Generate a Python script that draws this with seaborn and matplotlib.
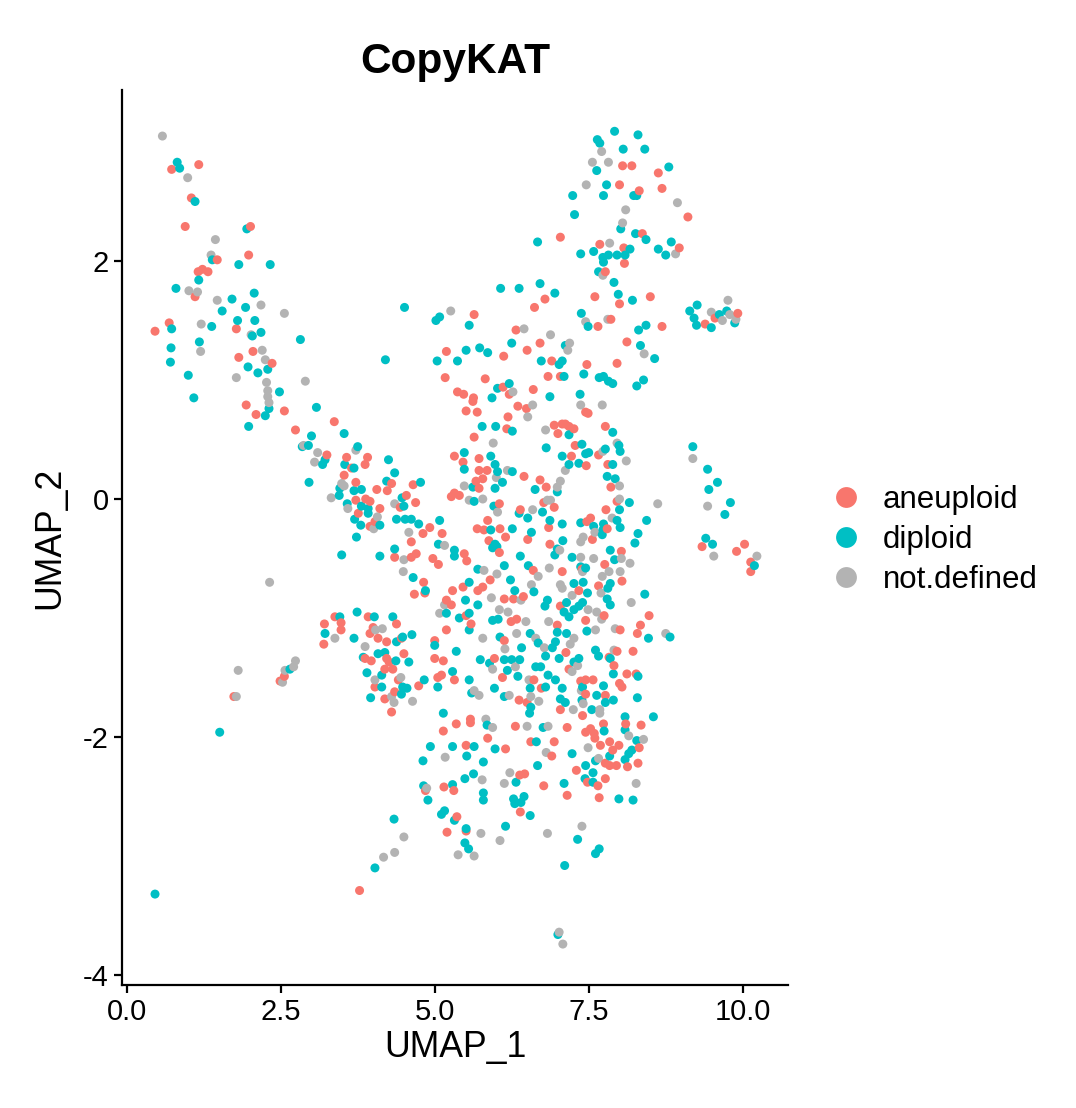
"""
CopyKAT prediction on the UMAP embedding (aneuploid / diploid / not.defined)
"""
import numpy as np
import pandas as pd
import matplotlib
matplotlib.use('Agg')
import matplotlib.pyplot as plt
from matplotlib.lines import Line2D
import seaborn as sns

# cell coordinates (UMAP_1, UMAP_2) per CopyKAT call
aneuploid = [
    (0.73, 2.77), (1.17, 2.81), (1.05, 2.53), (0.95, 2.29), (2.01, 2.29), (1.47, 2.01), (1.98, 2.05),
    (1.16, 1.91), (1.23, 1.93), (1.32, 1.91), (1.11, 1.70), (0.69, 1.48), (0.46, 1.41), (1.78, 1.43),
    (1.82, 1.19), (2.05, 1.24), (2.36, 1.14), (5.19, 1.24), (5.17, 1.02), (1.94, 0.79), (2.10, 0.71),
    (2.56, 0.74), (3.37, 0.65),
    (8.05, 2.80), (8.20, 2.80), (8.63, 2.74), (8.00, 2.64), (8.32, 2.59), (8.69, 2.61), (9.11, 2.37),
    (8.37, 2.23), (7.04, 2.20), (7.68, 2.14), (8.07, 2.11), (8.08, 1.98), (8.97, 2.11), (7.77, 1.91),
    (6.79, 1.68), (6.62, 1.61), (7.60, 1.70), (8.00, 1.64), (8.50, 1.70), (7.65, 1.45), (7.86, 1.51),
    (8.69, 1.45), (9.39, 1.47), (9.55, 1.52), (9.92, 1.56), (5.64, 1.55), (6.32, 1.42), (6.71, 1.31),
    (6.12, 1.20), (6.50, 1.25), (6.90, 1.16), (7.47, 1.13), (7.96, 1.14), (8.12, 1.32), (5.82, 1.01),
    (6.84, 1.03), (7.04, 1.03), (5.37, 0.90), (5.47, 0.88), (5.63, 0.85), (5.62, 0.82), (6.11, 0.94),
    (6.21, 0.88), (6.60, 0.92), (7.45, 0.73), (7.49, 0.72), (5.51, 0.74), (5.69, 0.73), (6.35, 0.78),
    (6.49, 0.76), (6.19, 0.69),
    (2.74, 0.58), (3.25, 0.37), (3.57, 0.35), (3.91, 0.35), (3.87, 0.29), (3.65, 0.26), (3.53, 0.20),
    (3.72, 0.14), (4.30, 0.13), (4.06, 0.08), (4.23, 0.07), (4.65, 0.12), (4.54, 0.03), (4.44, -0.07),
    (4.69, -0.03), (3.72, -0.01), (3.88, 0.00), (3.95, -0.02), (3.76, -0.12), (4.11, -0.08), (4.03, -0.19),
    (3.95, -0.23), (4.81, -0.29), (4.92, -0.24), (5.12, -0.29), (4.62, -0.36), (4.35, -0.49), (4.62, -0.49),
    (4.70, -0.46), (4.97, -0.50), (5.06, -0.55), (4.82, -0.70), (4.84, -0.79), (4.67, -0.80), (5.19, -0.85),
    (3.38, -0.99), (3.21, -1.05), (3.48, -1.04), (3.48, -1.10), (3.20, -1.22), (3.92, -0.99), (4.38, -1.05),
    (4.00, -1.08), (3.95, -1.13), (4.08, -1.17), (4.22, -1.20), (4.46, -1.17), (4.50, -1.30), (3.87, -1.34),
    (3.97, -1.36), (4.22, -1.34), (4.26, -1.37), (4.19, -1.43), (4.32, -1.43), (4.03, -1.58), (4.41, -1.52),
    (4.35, -1.62), (4.19, -1.68), (4.74, -1.57), (5.00, -1.19), (5.00, -1.34), (5.14, -1.36), (5.19, -1.10),
    (5.05, -1.50), (5.11, -1.48), (4.30, -1.79), (2.56, -1.49), (2.49, -1.53), (1.74, -1.66),
    (6.17, 0.59), (5.64, 0.52), (6.94, 0.62), (7.07, 0.63), (7.18, 0.61), (7.26, 0.59), (7.00, 0.55),
    (7.12, 0.63), (7.77, 0.61), (7.28, 0.45), (7.22, 0.36), (7.66, 0.37), (7.81, 0.29), (9.34, -0.40),
    (9.90, -0.44), (10.03, -0.38), (10.13, -0.53), (10.13, -0.61), (8.48, -0.98), (8.34, -1.06),
    (8.29, -1.13), (8.22, -1.28),
    (5.32, 0.36), (5.46, 0.31), (5.72, 0.34), (5.72, 0.24), (5.85, 0.24), (6.45, 0.19), (5.78, 0.17),
    (5.67, 0.15), (5.72, 0.09), (5.32, 0.05), (5.40, 0.03), (5.27, 0.02), (6.05, -0.04), (6.39, -0.09),
    (6.94, -0.07), (6.71, 0.16), (6.81, 0.10), (7.46, 0.28), (6.77, -0.03), (7.86, 0.10), (7.96, -0.02),
    (7.78, -0.09), (7.53, -0.16), (7.47, -0.19), (7.80, -0.25), (7.56, -0.34), (6.85, -0.24), (6.87, -0.38),
    (6.51, -0.34), (6.06, -0.25), (6.15, -0.32), (5.86, -0.18), (5.80, -0.26), (5.69, -0.25), (5.88, -0.35),
    (6.05, -0.45), (5.48, -0.46), (5.52, -0.52), (5.90, -0.68), (5.70, -0.77), (5.78, -0.74), (5.46, -0.74),
    (5.29, -0.77), (5.27, -0.89), (6.13, -0.84), (6.28, -0.84), (6.44, -0.82), (6.60, -0.60), (7.07, -0.61),
    (7.76, -0.55), (8.03, -0.44), (7.39, -0.59), (7.66, -0.73), (8.04, -0.69), (7.34, -0.77), (7.04, -0.90),
    (7.75, -0.98), (7.45, -1.02), (8.01, -1.10), (5.51, -0.98), (5.59, -1.05), (6.24, -1.03), (6.33, -1.01),
    (6.13, -1.19), (6.99, -1.06), (7.13, -1.29), (7.18, -1.43), (7.96, -1.28), (7.83, -1.33), (7.91, -1.40),
    (8.12, -1.47), (8.27, -1.47), (5.97, -1.34), (6.10, -1.50), (5.32, -1.52), (6.37, -1.69), (6.61, -1.52),
    (6.73, -1.59), (6.50, -1.71), (7.37, -1.53), (7.45, -1.52), (7.57, -1.52), (7.45, -1.64), (8.00, -1.55),
    (8.04, -1.58), (7.77, -1.65), (7.04, -1.77), (7.40, -1.82), (5.58, -1.85),
    (3.78, -3.29), (5.14, -1.95), (4.85, -2.45), (5.15, -2.42), (5.20, -2.80), (5.51, -2.79),
    (5.36, -2.67), (6.39, -2.63), (6.38, -2.32), (6.46, -2.31), (5.31, -2.45), (5.51, -2.07), (5.35, -1.89),
    (5.58, -1.88), (5.86, -2.01), (6.15, -2.10), (6.31, -1.91), (6.56, -2.04), (6.94, -2.04), (6.90, -2.16),
    (7.15, -1.92), (7.15, -2.49), (6.77, -2.41), (7.30, -2.28), (7.48, -2.38), (7.65, -2.41), (7.67, -2.51),
    (7.77, -2.35), (7.45, -1.96), (7.53, -1.93), (7.59, -1.97), (7.60, -2.01), (7.74, -1.89), (7.69, -2.07),
    (7.84, -2.04), (7.89, -2.11), (7.77, -2.22), (7.84, -2.24), (7.95, -2.24), (7.99, -2.07), (8.10, -1.89),
    (8.35, -1.90), (8.32, -2.09), (8.13, -2.25), (8.30, -2.22),
]

diploid = [
    (0.82, 2.83), (0.86, 2.78), (1.11, 2.50), (1.95, 2.27), (1.39, 2.01), (1.82, 1.97), (2.33, 1.97),
    (1.17, 1.84), (0.80, 1.77), (1.71, 1.68), (2.07, 1.73), (1.55, 1.58), (1.93, 1.61), (4.51, 1.61),
    (5.08, 1.53), (5.02, 1.50), (0.73, 1.43), (1.38, 1.45), (1.80, 1.50), (2.08, 1.50), (2.18, 1.40),
    (2.04, 1.37), (2.82, 1.34), (0.72, 1.27), (1.18, 1.32), (0.71, 1.15), (2.29, 1.09), (1.97, 1.11),
    (2.13, 1.06), (1.00, 1.04), (4.20, 1.17), (5.04, 1.16), (2.48, 0.90), (2.31, 0.76), (2.25, 0.70),
    (1.09, 0.85), (3.08, 0.77),
    (7.92, 3.09), (7.64, 3.02), (7.68, 2.99), (8.30, 3.06), (8.06, 2.94), (8.41, 2.94), (7.63, 2.76),
    (8.80, 2.79), (7.79, 2.64), (8.23, 2.55), (8.28, 2.55), (7.24, 2.55), (7.74, 2.55), (7.27, 2.39),
    (8.02, 2.27), (8.26, 2.23), (8.43, 2.18), (6.67, 2.16), (7.37, 2.06), (7.58, 2.08), (7.73, 2.03),
    (7.82, 2.05), (7.96, 2.05), (8.17, 2.10), (8.09, 2.05), (7.74, 1.99), (8.63, 2.10), (8.84, 2.16),
    (8.75, 2.05), (7.66, 1.91), (7.91, 1.82), (6.07, 1.77), (6.37, 1.77), (6.71, 1.81), (6.95, 1.73),
    (7.98, 1.72), (8.21, 1.67), (7.38, 1.56), (7.49, 1.45), (8.31, 1.42), (8.43, 1.46), (9.14, 1.58),
    (9.26, 1.63), (9.21, 1.52), (9.25, 1.46), (9.49, 1.44), (9.62, 1.55), (9.74, 1.58), (9.87, 1.48),
    (5.56, 1.46), (6.25, 1.31), (7.12, 1.29), (5.51, 1.25), (5.73, 1.27), (5.86, 1.23), (5.37, 1.16),
    (6.73, 1.16), (7.02, 1.13), (7.07, 1.16), (8.34, 1.29), (8.57, 1.18), (7.42, 1.05), (7.67, 1.02),
    (7.74, 1.03), (7.82, 0.99), (7.89, 0.97), (8.28, 0.95), (8.39, 1.00), (7.10, 1.03), (5.93, 0.85),
    (6.02, 0.93), (6.21, 0.97), (6.87, 0.86), (7.36, 0.88),
    (1.98, 0.61), (3.00, 0.53), (3.53, 0.55), (2.85, 0.44), (2.95, 0.45), (3.22, 0.33), (3.18, 0.29),
    (3.75, 0.44), (3.54, 0.29), (3.69, 0.26), (4.25, 0.33), (4.35, 0.22), (2.96, 0.14), (4.22, 0.15),
    (3.46, 0.09), (3.45, 0.03), (3.69, 0.07), (3.81, 0.08), (4.77, 0.14), (4.47, 0.01), (4.50, -0.06),
    (3.58, -0.04), (3.81, -0.06), (3.92, -0.08), (3.92, -0.12), (3.70, -0.17), (3.80, -0.22), (4.11, -0.22),
    (3.73, -0.32), (4.38, -0.17), (4.52, -0.17), (4.62, -0.17), (4.74, -0.21), (5.08, -0.18), (5.06, -0.38),
    (3.49, -0.47), (4.11, -0.48), (4.35, -0.42), (4.65, -0.66), (4.85, -0.77), (5.19, -0.96), (3.74, -0.95),
    (3.46, -0.99), (3.22, -1.13), (3.69, -1.17), (4.02, -0.99), (4.32, -0.99), (4.38, -1.20), (4.48, -1.16),
    (4.63, -1.14), (4.08, -1.30), (4.19, -1.29), (4.58, -1.37), (3.84, -1.33), (4.37, -1.36), (3.90, -1.46),
    (4.14, -1.48), (4.14, -1.58), (4.48, -1.58), (4.55, -1.59), (4.46, -1.64), (3.96, -1.67), (4.83, -1.52),
    (5.00, -1.23), (5.05, -1.58), (5.14, -1.80), (2.65, -1.43),
    (5.77, 0.61), (5.99, 0.61), (6.26, 0.57), (7.18, 0.54), (7.89, 0.56), (6.81, 0.43), (7.39, 0.46),
    (7.45, 0.38), (7.50, 0.39), (7.07, 0.36), (7.77, 0.42), (7.99, 0.45), (8.01, 0.40), (7.89, 0.29),
    (9.19, 0.44), (9.43, 0.25), (9.59, 0.14), (9.45, 0.08), (9.80, -0.03), (9.71, -0.13), (8.16, -0.03),
    (8.44, -0.18), (9.40, -0.33), (9.51, -0.38), (10.19, -0.56), (8.30, -0.29), (8.25, -0.37), (8.41, -0.80),
    (8.47, -1.17), (8.82, -1.16), (8.29, -1.67), (8.55, -1.83),
    (5.48, 0.39), (5.48, 0.25), (5.91, 0.36), (5.98, 0.29), (6.02, 0.23), (6.26, 0.23), (6.10, 0.14),
    (5.62, 0.10), (5.98, 0.09), (5.64, -0.02), (5.96, -0.06), (6.37, -0.12), (6.51, -0.16), (6.75, -0.11),
    (6.63, 0.08), (6.99, 0.06), (7.18, 0.29), (7.34, 0.30), (7.80, 0.19), (7.93, 0.17), (8.00, -0.09),
    (7.96, -0.18), (8.01, -0.24), (7.37, -0.20), (7.58, -0.23), (7.74, -0.21), (7.73, -0.26), (7.72, -0.30),
    (6.87, -0.18), (7.07, -0.21), (7.08, -0.35), (6.99, -0.42), (6.95, -0.47), (6.57, -0.28), (6.26, -0.25),
    (5.91, -0.26), (5.98, -0.38), (5.94, -0.41), (6.01, -0.40), (6.39, -0.48), (6.52, -0.56), (6.13, -0.56),
    (5.32, -0.43), (5.32, -0.48), (5.70, -0.59), (6.23, -0.68), (5.56, -0.70), (5.50, -0.85), (5.70, -0.89),
    (6.30, -0.77), (6.61, -0.78), (7.23, -0.49), (7.85, -0.43), (7.92, -0.51), (7.37, -0.57), (7.45, -0.58),
    (7.85, -0.71), (7.81, -0.75), (7.26, -0.71), (7.41, -0.70), (7.48, -0.79), (7.14, -0.87), (6.83, -0.85),
    (6.79, -0.90), (7.10, -0.95), (7.18, -0.99), (7.26, -0.93), (7.34, -0.90), (7.40, -0.87), (7.80, -0.84),
    (7.85, -0.89), (7.47, -1.11), (5.56, -0.96), (5.40, -1.00), (5.56, -1.10), (5.94, -1.02), (6.03, -1.01),
    (6.06, -1.16), (6.41, -1.25), (6.55, -1.13), (6.68, -1.21), (6.80, -1.32), (6.99, -1.12), (7.14, -1.13),
    (6.96, -1.20), (6.91, -1.25), (7.02, -1.34), (7.34, -1.34), (7.26, -1.37), (7.61, -1.27), (7.66, -1.32),
    (7.85, -1.34), (7.90, -1.47), (8.30, -1.49), (5.35, -1.28), (5.74, -1.35), (5.89, -1.38), (6.13, -1.35),
    (6.25, -1.35), (6.38, -1.35), (6.18, -1.44), (6.35, -1.49), (6.64, -1.41), (6.72, -1.41), (6.84, -1.48),
    (6.96, -1.52), (5.56, -1.52), (5.29, -1.45), (5.60, -1.63), (5.97, -1.59), (6.13, -1.66), (6.55, -1.59),
    (6.80, -1.58), (6.56, -1.75), (6.54, -1.80), (7.07, -1.59), (7.40, -1.58), (7.74, -1.57), (7.90, -1.69),
    (7.63, -1.65), (7.04, -1.68), (7.12, -1.71), (7.39, -1.69), (7.55, -1.77), (7.77, -1.71), (8.09, -1.83),
    (1.51, -1.96), (0.46, -3.32), (4.03, -3.10), (4.34, -2.69), (4.81, -2.20), (4.93, -2.08), (4.82, -2.41),
    (4.89, -2.53), (5.11, -2.65), (5.16, -2.62),
    (7.00, -3.66), (7.11, -3.08), (7.61, -2.98), (7.67, -2.94), (7.32, -2.86), (5.55, -2.94), (5.49, -2.89),
    (5.51, -2.77), (6.15, -2.75), (5.32, -2.70), (6.55, -2.66), (6.28, -2.52), (6.30, -2.56), (6.40, -2.55),
    (6.45, -2.50), (6.32, -2.38), (5.79, -2.47), (5.79, -2.53), (5.63, -2.31), (5.49, -2.35), (5.29, -2.40),
    (5.79, -2.21), (5.52, -2.16), (5.64, -2.08), (5.29, -2.08), (5.85, -1.90), (5.98, -2.10), (6.65, -2.04),
    (6.76, -1.92), (6.67, -2.24), (7.23, -2.14), (7.10, -2.39), (7.45, -2.24), (7.57, -2.30), (7.44, -2.35),
    (7.57, -2.38), (7.84, -2.16), (7.61, -2.20), (7.75, -1.95), (8.09, -1.94), (8.20, -2.11), (8.15, -2.14),
    (8.09, -2.19), (8.28, -2.03), (7.99, -2.52), (8.22, -2.53),
]

not_defined = [
    (0.58, 3.05), (0.99, 2.70), (1.44, 2.18), (1.37, 2.05), (1.01, 1.75), (1.15, 1.74), (1.47, 1.67),
    (2.18, 1.63), (2.56, 1.56), (5.26, 1.58), (1.21, 1.47), (2.02, 1.38), (1.20, 1.24), (2.20, 1.25),
    (2.25, 1.17), (1.78, 1.02), (2.90, 0.99), (2.27, 0.98), (2.29, 0.91), (2.29, 0.86), (2.31, 0.81),
    (7.71, 2.92), (7.56, 2.83), (7.82, 2.83), (7.46, 2.64), (8.94, 2.49), (8.10, 2.43), (8.05, 2.32),
    (7.84, 2.15), (8.91, 2.06), (7.73, 1.88), (7.45, 1.49), (7.81, 1.51), (9.49, 1.57), (9.67, 1.50),
    (9.76, 1.67), (9.79, 1.55), (9.89, 1.51), (6.45, 1.43), (6.88, 1.38), (7.19, 1.31), (7.16, 1.25),
    (8.40, 1.22), (6.27, 0.90), (7.37, 0.79), (7.72, 0.79), (6.59, 0.79), (6.51, 0.69),
    (2.87, 0.45), (3.10, 0.39), (3.05, 0.31), (3.72, 0.41), (3.49, 0.13), (3.53, 0.11), (3.32, 0.01),
    (4.35, -0.04), (3.59, -0.08), (4.07, -0.15), (4.01, -0.25), (4.58, -0.28), (5.16, -0.39), (4.50, -0.51),
    (4.49, -0.61), (2.32, -0.70), (5.16, -0.89), (5.08, -0.96), (3.38, -1.17), (4.04, -1.10), (4.15, -1.09),
    (3.87, -1.24), (4.03, -1.52), (4.45, -1.50), (4.30, -1.66), (4.34, -1.71), (4.64, -1.70), (1.81, -1.44),
    (2.74, -1.36), (2.71, -1.41), (2.57, -1.44), (2.53, -1.54), (1.78, -1.66),
    (6.80, 0.58), (5.95, 0.47), (7.73, 0.40), (7.96, 0.47), (8.11, 0.32), (9.19, 0.34), (9.43, -0.06),
    (8.62, -0.04), (9.53, -0.48), (10.23, -0.48), (8.19, -0.87), (8.75, -1.13),
    (6.18, 0.24), (6.00, 0.18), (5.48, 0.11), (5.56, -0.01), (5.78, 0.00), (6.02, -0.11), (6.59, -0.09),
    (6.99, 0.10), (7.04, 0.15), (7.12, 0.24), (6.83, -0.01), (6.88, -0.01), (8.00, 0.11), (8.00, 0.00),
    (7.88, -0.16), (7.60, -0.28), (7.41, -0.32), (7.37, -0.36), (7.03, -0.43), (5.80, -0.60), (6.01, -0.63),
    (5.92, -0.83), (6.40, -0.85), (6.68, -0.65), (6.57, -0.72), (6.86, -0.58), (7.37, -0.49), (7.58, -0.50),
    (8.03, -0.50), (8.17, -0.54), (7.40, -0.61), (7.72, -0.65), (7.83, -0.61), (8.01, -0.61), (7.70, -0.79),
    (7.04, -0.72), (7.07, -0.75), (7.23, -0.81), (7.49, -0.93), (7.63, -0.95), (7.71, -1.01), (7.61, -1.10),
    (7.93, -1.09), (5.78, -1.17), (6.05, -0.93), (6.19, -0.95), (6.48, -1.03), (6.33, -1.13), (6.14, -1.26),
    (6.64, -1.17), (6.78, -1.25), (6.85, -1.03), (7.26, -1.17), (7.20, -1.22), (7.32, -1.40), (7.23, -1.45),
    (7.91, -1.27), (5.94, -1.43), (6.31, -1.41), (5.64, -1.61), (5.72, -1.65), (6.21, -1.65), (6.53, -1.52),
    (6.56, -1.66), (6.69, -1.70), (7.38, -1.61), (7.25, -1.77), (7.41, -1.72), (7.68, -1.77), (7.68, -1.80),
    (5.83, -1.85),
    (4.17, -3.01), (4.35, -2.97), (4.50, -2.84), (5.17, -2.17), (4.87, -2.43),
    (7.02, -3.64), (7.08, -3.74), (7.39, -2.75), (6.83, -2.81), (6.06, -2.87), (5.38, -2.99), (5.64, -3.00),
    (5.75, -2.81), (6.22, -2.30), (6.13, -2.39), (5.77, -2.36), (5.94, -1.92), (6.50, -1.91), (6.84, -1.91),
    (6.81, -2.13), (7.49, -2.09), (7.66, -2.18), (8.15, -1.99), (8.39, -2.02), (8.27, -2.39),
]

groups = ['aneuploid', 'diploid', 'not.defined']
colors = ['#F8766D', '#00BFC4', '#B3B3B3']
x_ticks = [0.0, 2.5, 5.0, 7.5, 10.0]
x_ticklabels = ['0.0', '2.5', '5.0', '7.5', '10.0']
y_ticks = [-4, -2, 0, 2]

# one long table, cells in mixed order like the original plotting order
frames = []
for name, pts in zip(groups, [aneuploid, diploid, not_defined]):
    arr = np.array(pts)
    frames.append(pd.DataFrame({'UMAP_1': arr[:, 0], 'UMAP_2': arr[:, 1], 'copykat': name}))
df = pd.concat(frames, ignore_index=True)
df = df.sort_values('UMAP_1', kind='mergesort').reset_index(drop=True)

sns.set_style('ticks')
plt.rcParams['font.family'] = ['Liberation Sans', 'DejaVu Sans']
plt.rcParams['axes.unicode_minus'] = False
plt.rcParams['text.color'] = 'black'
plt.rcParams['axes.labelcolor'] = 'black'

W, H = 1076, 1108
fig = plt.figure(figsize=(W / 100, H / 100), dpi=100)
# axes box in pixels: left 122, right 788, top 90, bottom 985
ax = fig.add_axes([122 / W, 1 - 985 / H, (788 - 122) / W, (985 - 90) / H])

sns.scatterplot(data=df, x='UMAP_1', y='UMAP_2', hue='copykat', hue_order=groups,
                palette=colors, s=42, linewidth=0, legend=False, ax=ax)

ax.set_xlim(-0.076, 10.735)
ax.set_ylim(-4.084, 3.437)
ax.set_xticks(x_ticks)
ax.set_xticklabels(x_ticklabels)
ax.set_yticks(y_ticks)

sns.despine(ax=ax)
for side in ['left', 'bottom']:
    ax.spines[side].set_linewidth(1.6)
    ax.spines[side].set_color('black')
ax.tick_params(length=5.5, width=1.6, labelsize=21, pad=4, colors='black')

ax.set_title('CopyKAT', fontsize=30.5, fontweight='bold', pad=12, color='black')
ax.set_xlabel('UMAP_1', fontsize=25.7, labelpad=3, color='black')
ax.set_ylabel('UMAP_2', fontsize=25.7, labelpad=11, color='black')

handles = [Line2D([], [], marker='o', ls='', markersize=15, markerfacecolor=c,
                  markeredgewidth=0) for c in colors]
leg = fig.legend(handles, groups, loc='center left', bbox_to_anchor=(830 / W, 1 - 540 / H),
                 frameon=False, fontsize=22.5, handlelength=1.0, handletextpad=0.7,
                 labelspacing=0.32, borderpad=0, borderaxespad=0)
for t in leg.get_texts():
    t.set_color('black')

fig.savefig('out.png', dpi=100)
